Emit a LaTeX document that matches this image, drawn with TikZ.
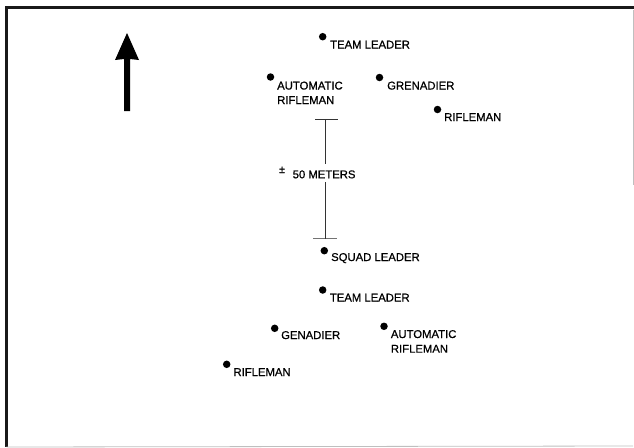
\documentclass[tikz,border=0pt]{standalone}
\usepackage{fontspec}
\setmainfont{Liberation Sans}
\newfontfamily\lblfont[FakeBold=0.7]{Liberation Sans}
\begin{document}
\begin{tikzpicture}[x=1pt,y=-1pt,
  soldier/.style={circle,fill=black,inner sep=0pt,minimum size=7.5pt},
  lbl/.style={anchor=base west,inner sep=0pt,font=\lblfont\fontsize{11.3}{13}\selectfont},
  frameline/.style={line width=2.4pt,black!90},
  faintline/.style={line width=0.8pt,black!25},
  scaleline/.style={line width=1pt,black!80}]
\useasboundingbox (0,0) rectangle (634,447);
% frame
\coordinate (fTL) at (6.5,7.5);
\coordinate (fTR) at (634,7.5);
\coordinate (fBL) at (6.5,447);
\coordinate (fBR) at (633,446);
\coordinate (fRT) at (633,10);
\draw[frameline] (fTR) -- (fTL) -- (fBL);
\draw[faintline] (fBL) -- (fBR);
\draw[faintline] (fRT) -- (633,185);
% north arrow
\fill (124,111) -- (124,59) -- (115,60) -- (127,33) -- (139,60) -- (130,59) -- (130,111) -- cycle;
% front team
\node[soldier] (tl1) at (322.7,36.7) {};
\node[lbl] (tl1t) at (330,48.5) {TEAM LEADER};
\node[soldier] (ar1) at (270.5,77) {};
\node[lbl] (ar1t) at (277,89.5) {AUTOMATIC};
\node[lbl] (ar1u) at (277,104) {RIFLEMAN};
\node[soldier] (gr1) at (379.5,77.5) {};
\node[lbl] (gr1t) at (387,89.5) {GRENADIER};
\node[soldier] (rf1) at (437.5,109.5) {};
\node[lbl] (rf1t) at (444,121) {RIFLEMAN};
% distance bar
\coordinate (sbT) at (325,119.3);
\coordinate (sbB) at (325,238.5);
\coordinate (sbTl) at (315,119.3);
\coordinate (sbTr) at (338,119.3);
\coordinate (sbBl) at (313,238.5);
\coordinate (sbBr) at (337,238.5);
\coordinate (sbG1) at (325,164);
\coordinate (sbG2) at (325,182);
\draw[scaleline] (sbTl) -- (sbTr);
\draw[scaleline,black!55] (sbBl) -- (sbBr);
\draw[scaleline] (sbT) -- (sbG1);
\draw[scaleline] (sbG2) -- (sbB);
\node[lbl,font=\lblfont\fontsize{10.5}{11}\selectfont] (pm) at (279,173) {±};
\node[lbl] (dist) at (292.5,178.3) {50 METERS};
% squad leader
\node[soldier] (sl) at (324.3,250.7) {};
\node[lbl] (slt) at (331,261) {SQUAD LEADER};
% rear team
\node[soldier] (tl2) at (322.7,290) {};
\node[lbl] (tl2t) at (329.7,301.5) {TEAM LEADER};
\node[soldier] (gr2) at (274.7,328.3) {};
\node[lbl] (gr2t) at (281,339) {GENADIER};
\node[soldier] (ar2) at (384,326.3) {};
\node[lbl] (ar2t) at (390.7,338) {AUTOMATIC};
\node[lbl] (ar2u) at (390.7,352.7) {RIFLEMAN};
\node[soldier] (rf2) at (226.7,364.3) {};
\node[lbl] (rf2t) at (233.3,376) {RIFLEMAN};
\end{tikzpicture}
\end{document}
